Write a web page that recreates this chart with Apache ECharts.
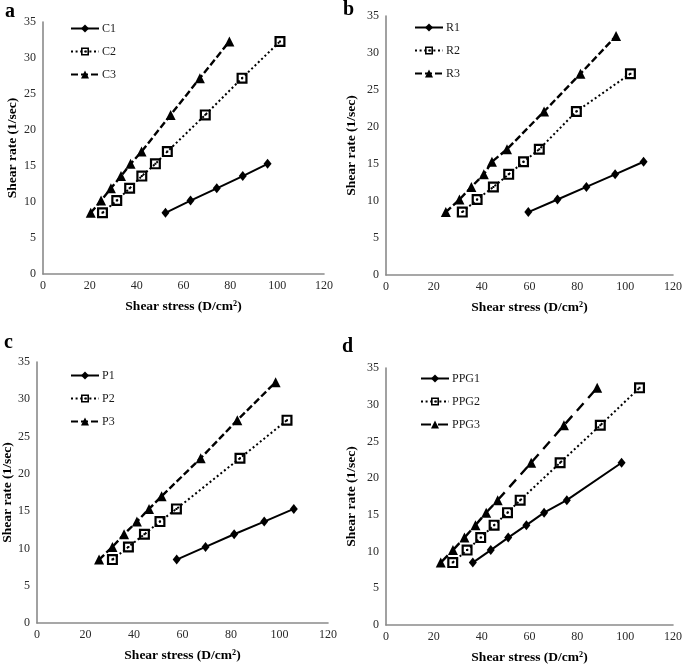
<!DOCTYPE html>
<html>
<head>
<meta charset="utf-8">
<script src="https://cdn.jsdelivr.net/npm/echarts@6/dist/echarts.min.js"></script>
<style>html,body{margin:0;padding:0;background:#fff}#c{width:685px;height:668px}</style>
</head>
<body>
<div id="c"></div>
<script>
// ---- data (shear stress x, shear rate y) ----
const panelLetters = ['a', 'b', 'c', 'd'];
const xTitle = 'Shear stress (D/cm²)';
const yTitle = 'Shear rate (1/sec)';
const xTicks = [0, 20, 40, 60, 80, 100, 120];
const yTicks = [0, 5, 10, 15, 20, 25, 30, 35];

// panel a
const C1_stress = [52.3, 63.0, 74.2, 85.3, 95.9];
const C1_rate   = [8.5, 10.2, 11.9, 13.6, 15.3];
const C2_stress = [25.4, 31.5, 37.0, 42.2, 48.0, 53.1, 69.3, 85.0, 101.2];
const C2_rate   = [8.5, 10.2, 11.9, 13.6, 15.3, 17.0, 22.1, 27.2, 32.3];
const C3_stress = [20.4, 24.8, 29.0, 33.3, 37.4, 42.1, 54.5, 67.0, 79.6];
const C3_rate   = [8.5, 10.2, 11.9, 13.6, 15.3, 17.0, 22.1, 27.2, 32.3];
// panel b
const R1_stress = [59.5, 71.7, 83.8, 95.8, 107.7];
const R1_rate   = [8.5, 10.2, 11.9, 13.6, 15.3];
const R2_stress = [31.9, 38.1, 44.9, 51.3, 57.5, 64.1, 79.6, 102.2];
const R2_rate   = [8.5, 10.2, 11.9, 13.6, 15.3, 17.0, 22.1, 27.2];
const R3_stress = [25.0, 30.7, 35.7, 40.9, 44.3, 50.6, 66.1, 81.3, 96.2];
const R3_rate   = [8.5, 10.2, 11.9, 13.6, 15.3, 17.0, 22.1, 27.2, 32.3];
// panel c
const P1_stress = [57.6, 69.5, 81.3, 93.7, 105.9];
const P1_rate   = [8.5, 10.2, 11.9, 13.6, 15.3];
const P2_stress = [31.1, 37.7, 44.3, 50.7, 57.5, 83.7, 103.1];
const P2_rate   = [8.5, 10.2, 11.9, 13.6, 15.3, 22.1, 27.2];
const P3_stress = [25.6, 31.1, 35.9, 41.2, 46.2, 51.4, 67.5, 82.6, 98.4];
const P3_rate   = [8.5, 10.2, 11.9, 13.6, 15.3, 17.0, 22.1, 27.2, 32.3];
// panel d
const PPG1_stress = [36.3, 43.8, 51.1, 58.7, 66.1, 75.6, 98.5];
const PPG1_rate   = [8.5, 10.2, 11.9, 13.6, 15.3, 17.0, 22.1];
const PPG2_stress = [27.9, 33.9, 39.6, 45.2, 50.8, 56.1, 72.8, 89.6, 106.0];
const PPG2_rate   = [8.5, 10.2, 11.9, 13.6, 15.3, 17.0, 22.1, 27.2, 32.3];
const PPG3_stress = [22.9, 28.0, 32.8, 37.4, 41.9, 46.7, 60.7, 74.4, 88.3];
const PPG3_rate   = [8.5, 10.2, 11.9, 13.6, 15.3, 17.0, 22.1, 27.2, 32.3];

const panels = [
  { names: ['C1', 'C2', 'C3'], xs: [C1_stress, C2_stress, C3_stress], ys: [C1_rate, C2_rate, C3_rate] },
  { names: ['R1', 'R2', 'R3'], xs: [R1_stress, R2_stress, R3_stress], ys: [R1_rate, R2_rate, R3_rate] },
  { names: ['P1', 'P2', 'P3'], xs: [P1_stress, P2_stress, P3_stress], ys: [P1_rate, P2_rate, P3_rate] },
  { names: ['PPG1', 'PPG2', 'PPG3'], xs: [PPG1_stress, PPG2_stress, PPG3_stress], ys: [PPG1_rate, PPG2_rate, PPG3_rate] }
];

// ---- layout / style ----
const FONT = '"Liberation Serif", "DejaVu Serif", serif';
const grids = [
  { left: 43, top: 22, width: 281, height: 252 },
  { left: 386, top: 16, width: 287, height: 259 },
  { left: 37, top: 362, width: 291, height: 261 },
  { left: 386, top: 368, width: 287, height: 257 }
];
const yNameGap = [23, 27, 18, 27];
const legendPos = [
  { left: 70, top: 22.5 }, { left: 414, top: 21.5 }, { left: 70, top: 369.5 }, { left: 420, top: 372.5 }
];
const letterPos = [[5, 2], [343, 0], [4, 333], [342, 337]];
const squareSym = 'path://M0,0H10V10H0Z M2,2V8H8V2Z M4.1,4.1H5.9V5.9H4.1Z';

const seriesStyles = [
  { symbol: 'diamond', symbolSize: [8, 10], lineStyle: { type: 'solid', width: 2 } },
  { symbol: squareSym, symbolSize: 11, lineStyle: { type: [2, 2.6], width: 2 } },
  { symbol: 'triangle', symbolSize: 10, lineStyle: { type: [7, 3], width: 2.4 } }
];

const option = {
  animation: false,
  backgroundColor: '#fff',
  grid: [], xAxis: [], yAxis: [], series: [], legend: [], graphic: []
};

panels.forEach((p, i) => {
  option.grid.push(Object.assign({ outerBoundsMode: 'none', containLabel: false }, grids[i]));
  option.xAxis.push({
    type: 'value', gridIndex: i, min: xTicks[0], max: xTicks[xTicks.length - 1], interval: xTicks[1] - xTicks[0],
    name: xTitle, nameLocation: 'middle', nameGap: 26,
    nameTextStyle: { fontFamily: FONT, fontWeight: 'bold', fontSize: 13.5, color: '#000' },
    axisLine: { show: true, lineStyle: { color: '#8a8a8a', width: 1.6 } },
    axisTick: { show: false }, splitLine: { show: false },
    axisLabel: { fontFamily: FONT, fontSize: 12, color: '#2a2a2a', margin: 6 }
  });
  option.yAxis.push({
    type: 'value', gridIndex: i, min: yTicks[0], max: yTicks[yTicks.length - 1], interval: yTicks[1] - yTicks[0],
    name: yTitle, nameLocation: 'middle', nameGap: yNameGap[i], nameRotate: 90,
    nameTextStyle: { fontFamily: FONT, fontWeight: 'bold', fontSize: 13.5, color: '#000' },
    axisLine: { show: true, lineStyle: { color: '#8a8a8a', width: 1.6 } },
    axisTick: { show: false }, splitLine: { show: false },
    axisLabel: { fontFamily: FONT, fontSize: 12, color: '#2a2a2a', margin: 7 }
  });
  p.names.forEach((nm, k) => {
    const st = seriesStyles[k];
    let ls = Object.assign({ color: '#000' }, st.lineStyle);
    if (i === 3 && k === 2) ls = { color: '#000', type: [10, 7], width: 2.4 };
    option.series.push({
      type: 'line', name: nm, xAxisIndex: i, yAxisIndex: i,
      data: p.xs[k].map((x, j) => [x, p.ys[k][j]]),
      symbol: st.symbol, symbolSize: st.symbolSize, showSymbol: true,
      itemStyle: { color: '#000', opacity: 1 },
      lineStyle: ls
    });
  });
  option.legend.push(Object.assign({
    orient: 'vertical', data: p.names, itemWidth: 28, itemHeight: 10, itemGap: 11,
    textStyle: { fontFamily: FONT, fontSize: 12, color: '#1a1a1a', padding: [0, 0, 0, -2] },
    padding: 0, selectedMode: false
  }, legendPos[i]));
  option.graphic.push({
    type: 'text', left: letterPos[i][0], top: letterPos[i][1],
    style: { text: panelLetters[i], font: 'bold 20px ' + FONT, fill: '#000' }
  });
});

const chart = echarts.init(document.getElementById('c'), null, { renderer: 'canvas' });
chart.setOption(option);
</script>
</body>
</html>
